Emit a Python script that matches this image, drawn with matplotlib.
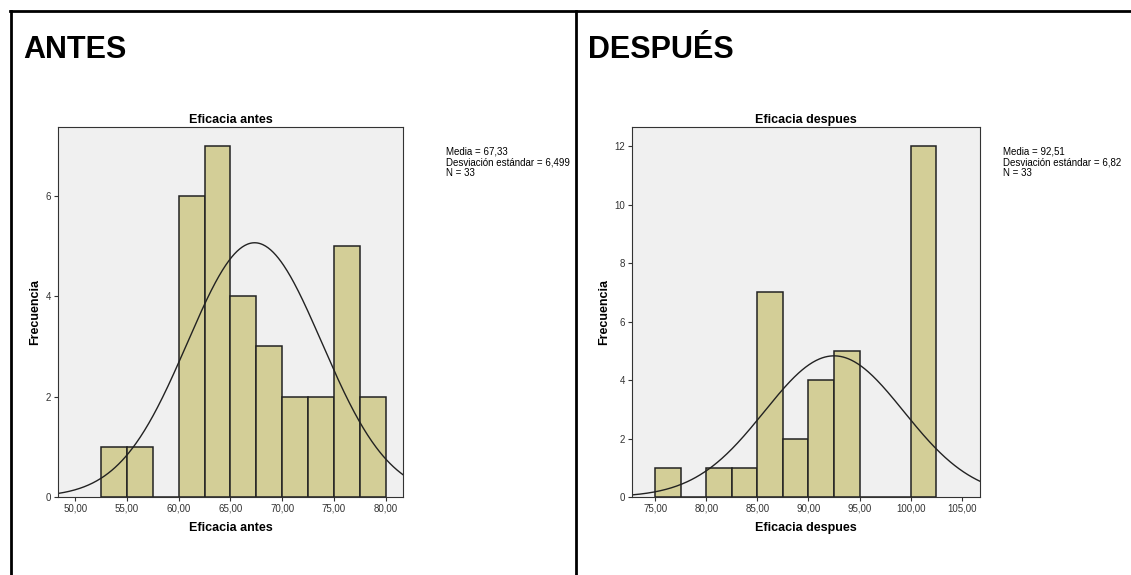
import numpy as np
import matplotlib.pyplot as plt
from matplotlib.lines import Line2D

plt.rcParams['font.family'] = ['Liberation Sans', 'DejaVu Sans']

# ANTES
edges_antes = [52.5, 55.0, 57.5, 60.0, 62.5, 65.0, 67.5, 70.0, 72.5, 75.0, 77.5, 80.0]
counts_antes = [1, 1, 0, 6, 7, 4, 3, 2, 2, 5, 2]
xticks_antes = [50, 55, 60, 65, 70, 75, 80]
yticks_antes = [0, 2, 4, 6]
mean_antes, sd_antes, n_antes = 67.33, 6.499, 33

# DESPUES
edges_desp = [75.0, 77.5, 80.0, 82.5, 85.0, 87.5, 90.0, 92.5, 95.0, 97.5, 100.0, 102.5]
counts_desp = [1, 0, 1, 1, 7, 2, 4, 5, 0, 0, 12]
xticks_desp = [75, 80, 85, 90, 95, 100, 105]
yticks_desp = [0, 2, 4, 6, 8, 10, 12]
mean_desp, sd_desp, n_desp = 92.51, 6.82, 33

W, H = 1131, 575
fig = plt.figure(figsize=(W / 100, H / 100), dpi=100)

bar_color = '#D3CE97'
edge_color = '#222222'


def panel(rect, edges, counts, xticks, yticks, xlim, ylim, mean, sd, n, name, sd_txt, stats_x):
    l, b, w, h = rect
    ax = fig.add_axes([l / W, 1 - (b + h) / H, w / W, h / H])
    ax.set_facecolor('#F0F0F0')
    lefts = np.array(edges[:-1])
    widths = np.diff(edges)
    ax.bar(lefts, counts, width=widths, align='edge', color=bar_color,
           edgecolor=edge_color, linewidth=1.1)
    xs = np.linspace(xlim[0], xlim[1], 400)
    bw = widths[0]
    ys = n * bw / (sd * np.sqrt(2 * np.pi)) * np.exp(-0.5 * ((xs - mean) / sd) ** 2)
    ax.plot(xs, ys, color='#222222', linewidth=1.0)
    ax.set_xlim(*xlim)
    ax.set_ylim(*ylim)
    ax.set_xticks(xticks)
    ax.set_xticklabels([f'{t:.2f}'.replace('.', ',') for t in xticks], fontsize=7)
    ax.set_yticks(yticks)
    ax.set_yticklabels([str(t) for t in yticks], fontsize=7)
    ax.tick_params(length=3, width=0.8, pad=2, colors='#333333')
    for s in ax.spines.values():
        s.set_linewidth(0.8)
        s.set_color('#333333')
    ax.set_title(name, fontsize=9, fontweight='bold', pad=3)
    ax.set_xlabel(name, fontsize=9, fontweight='bold', labelpad=6)
    ax.set_ylabel('Frecuencia', fontsize=9, fontweight='bold', labelpad=3)
    fig.text(stats_x / W, 1 - 146 / H,
             f'Media = {mean:.2f}'.replace('.', ',') + '\n'
             + f'Desviación estándar = {sd_txt}\nN = {n}',
             fontsize=7, va='top', ha='left', linespacing=1.15)
    return ax


panel((58, 127, 345, 370), edges_antes, counts_antes, xticks_antes, yticks_antes,
      (48.33, 81.67), (0, 7.37), mean_antes, sd_antes, n_antes,
      'Eficacia antes', '6,499', 446)
panel((632, 127, 348, 370), edges_desp, counts_desp, xticks_desp, yticks_desp,
      (72.72, 106.8), (0, 12.65), mean_desp, sd_desp, n_desp,
      'Eficacia despues', '6,82', 1003)

# table borders
def fline(x0, y0, x1, y1):
    fig.add_artist(Line2D([x0 / W, x1 / W], [1 - y0 / H, 1 - y1 / H],
                          color='black', linewidth=2.0, transform=fig.transFigure))

fline(10, 11, W, 11)
fline(11, 11, 11, H)
fline(576, 11, 576, H)

fig.text(23 / W, 1 - 50 / H, 'ANTES', fontsize=22, fontweight='bold', va='center')
fig.text(588 / W, 1 - 50 / H, 'DESPUÉS', fontsize=22, fontweight='bold', va='center')

fig.savefig('out.png', dpi=100)
